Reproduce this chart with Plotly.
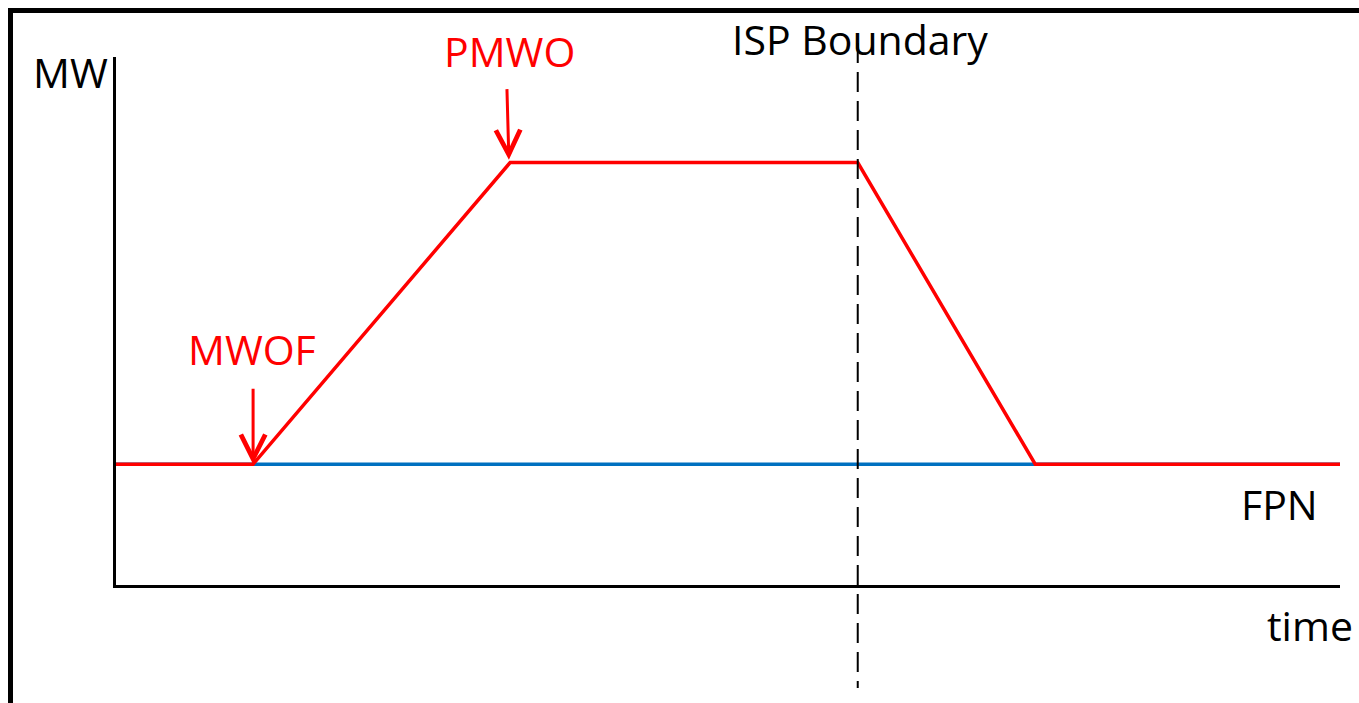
import plotly.graph_objects as go

# ---- data (abstract units: time on x, MW on y) ----
time_pts = [0.0, 1.12, 3.22, 6.06, 7.51, 10.0]      # MWOF start, PMWO reached, ISP boundary, back to FPN
mw_pts = [2.86, 2.86, 10.0, 10.0, 2.86, 2.86]
fpn_time = [0.0, 10.0]
fpn_mw = [2.86, 2.86]
isp_boundary_t = 6.06
mwof_point = (1.12, 2.86)
pmwo_point = (3.22, 10.0)

W, H = 1359, 703
ML, MR, MT, MB = 116, 19, 57, 118
PW, PH = W - ML - MR, H - MT - MB
X_RANGE = [0, 10]
Y_RANGE = [0, 12.5]

def px_to_paper_x(px):
    return (px - ML) / PW

def px_to_paper_y(py):
    return (H - MB - py) / PH

RED = "#FF0000"
BLUE = "#0070C0"
FONT = "Open Sans"

fig = go.Figure()
fig.add_trace(go.Scatter(x=fpn_time, y=fpn_mw, mode="lines",
                         line=dict(color=BLUE, width=3.5), hoverinfo="skip", showlegend=False))
fig.add_trace(go.Scatter(x=time_pts, y=mw_pts, mode="lines",
                         line=dict(color=RED, width=3.5), hoverinfo="skip", showlegend=False))

shapes = [
    # outer frame (left and top)
    dict(type="line", xref="paper", yref="paper",
         x0=px_to_paper_x(10.5), x1=px_to_paper_x(10.5),
         y0=px_to_paper_y(8), y1=px_to_paper_y(710),
         line=dict(color="black", width=5)),
    dict(type="line", xref="paper", yref="paper",
         x0=px_to_paper_x(8), x1=px_to_paper_x(1365),
         y0=px_to_paper_y(10.5), y1=px_to_paper_y(10.5),
         line=dict(color="black", width=5)),
    # ISP boundary dashed line
    dict(type="line", xref="x", yref="paper",
         x0=isp_boundary_t, x1=isp_boundary_t,
         y0=px_to_paper_y(43), y1=px_to_paper_y(688),
         line=dict(color="black", width=2, dash="20px,9px")),
]

txt = dict(family=FONT, size=41)

def label(text, cx, cy, color):
    return dict(x=px_to_paper_x(cx), y=px_to_paper_y(cy), xref="paper", yref="paper",
                text=text, showarrow=False, xanchor="center", yanchor="middle",
                font=dict(color=color, **txt))

annotations = [
    label("MW", 70, 72, "black"),
    label("ISP Boundary", 860, 39, "black"),
    label("PMWO", 509.5, 51, RED),
    label("MWOF", 251.5, 349, RED),
    label("FPN", 1279.5, 504, "black"),
    label("time", 1309.5, 625, "black"),
    # arrows
    dict(x=mwof_point[0], y=mwof_point[1], xref="x", yref="y", text="",
         showarrow=True, ax=0, ay=-77, arrowhead=5, arrowsize=1.6, arrowwidth=3,
         arrowcolor=RED),
    dict(x=pmwo_point[0] - 0.01, y=pmwo_point[1] + 0.07, xref="x", yref="y", text="",
         showarrow=True, ax=-2, ay=-72, arrowhead=5, arrowsize=1.6, arrowwidth=3,
         arrowcolor=RED),
]

axis_common = dict(showgrid=False, zeroline=False, showticklabels=False, ticks="",
                   showline=True, linecolor="black", linewidth=3, fixedrange=True)

fig.update_layout(
    width=W, height=H,
    margin=dict(l=ML, r=MR, t=MT, b=MB, pad=0),
    paper_bgcolor="white", plot_bgcolor="white",
    xaxis=dict(range=X_RANGE, **axis_common),
    yaxis=dict(range=Y_RANGE, **axis_common),
    shapes=shapes, annotations=annotations,
    showlegend=False,
)

fig.write_html("out.html", config={"displayModeBar": False},
               post_script="document.body.style.margin='0';document.body.style.overflow='hidden';")
